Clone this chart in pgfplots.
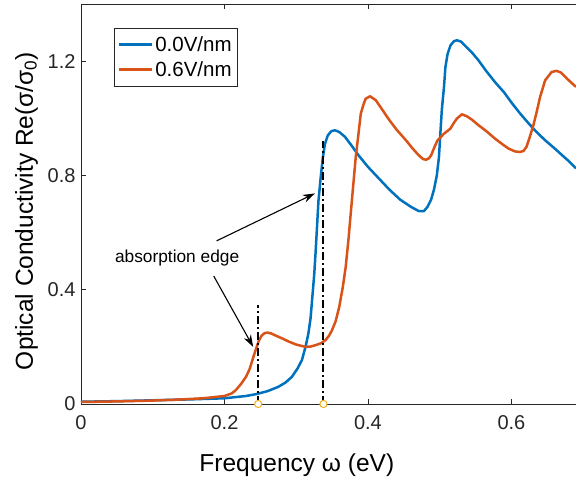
\documentclass[border=0pt]{standalone}
\usepackage{fontspec}
\setmainfont{Liberation Sans}
\usepackage{pgfplots}
\pgfplotsset{compat=1.18}
\usetikzlibrary{arrows.meta}
\definecolor{mblue}{rgb}{0,0.447,0.741}
\definecolor{morange}{rgb}{0.851,0.325,0.098}
\definecolor{myellow}{rgb}{0.929,0.694,0.125}
\definecolor{mgray}{rgb}{0.15,0.15,0.15}
\begin{document}
\begin{tikzpicture}
\path[use as bounding box] (-81pt,-81pt) rectangle (495pt,404pt);
\begin{axis}[
  scale only axis, width=495pt, height=400pt,
  at={(0pt,0pt)}, anchor=south west,
  xmin=0, xmax=0.69, ymin=0, ymax=1.4,
  axis x line*=box, axis y line*=left,
  axis line style={mgray, line width=0.8pt},
  xtick={0,0.2,0.4,0.6}, ytick={0,0.4,0.8,1.2},
  xticklabels={0,0.2,0.4,0.6}, yticklabels={0,0.4,0.8,1.2},
  tick align=inside, major tick length=5pt,
  tick style={mgray, line width=0.8pt},
  /pgf/number format/assume math mode=true,
  tick label style={font=\fontsize{20}{24}\selectfont, text=mgray},
  xticklabel style={yshift=-8pt},
  yticklabel style={xshift=-2pt},
  xlabel={Frequency ω (eV)},
  ylabel={Optical Conductivity Re(σ/σ\textsubscript{0})},
  label style={font=\fontsize{24.5}{28}\selectfont},
  xlabel style={at={(axis description cs:0.436,-0.1675)}, anchor=base},
  ylabel style={at={(axis description cs:-0.097,0.4825)}, anchor=base},
  legend style={at={(axis description cs:0.0667,0.94)}, anchor=north west,
    draw=mgray, fill=white,
    font=\fontsize{20.5}{24}\selectfont, inner xsep=3.5pt, inner ysep=6pt,
    row sep=5pt},
  legend cell align=left,
  legend image code/.code={\draw[#1, line width=2.6pt] (0pt,0pt) -- (33pt,0pt);},
  clip=false,
]
\addplot[mblue, line width=2.5pt, line join=round] coordinates {
(0,0.008) (0.05,0.01) (0.1,0.013) (0.15,0.016) (0.2,0.02) (0.23,0.028) (0.245,0.035) (0.26,0.045) (0.275,0.06) (0.285,0.075) (0.294,0.095) (0.302,0.125) (0.308,0.154) (0.313,0.2) (0.317,0.247) (0.32,0.3) (0.322,0.36) (0.325,0.45) (0.327,0.53) (0.329,0.62) (0.331,0.71) (0.334,0.79) (0.337,0.86) (0.34,0.91) (0.344,0.94) (0.349,0.955) (0.354,0.958) (0.36,0.952) (0.368,0.935) (0.377,0.905) (0.387,0.87) (0.4,0.83) (0.415,0.79) (0.43,0.75) (0.445,0.715) (0.46,0.69) (0.471,0.675) (0.478,0.675) (0.483,0.69) (0.488,0.715) (0.492,0.75) (0.496,0.8) (0.499,0.865) (0.501,0.95) (0.503,1.03) (0.506,1.11) (0.508,1.18) (0.511,1.225) (0.515,1.255) (0.52,1.27) (0.524,1.273) (0.53,1.268) (0.535,1.255) (0.545,1.23) (0.554,1.203) (0.565,1.165) (0.577,1.127) (0.59,1.09) (0.601,1.052) (0.612,1.017) (0.624,0.982) (0.635,0.952) (0.647,0.923) (0.66,0.895) (0.671,0.87) (0.68,0.85) (0.69,0.825)
};
\addlegendentry{0.0V/nm}
\addplot[morange, line width=2.5pt, line join=round] coordinates {
(0,0.007) (0.05,0.009) (0.1,0.012) (0.14,0.016) (0.17,0.02) (0.2,0.028) (0.21,0.037) (0.216,0.049) (0.223,0.07) (0.23,0.095) (0.235,0.122) (0.239,0.154) (0.242,0.178) (0.245,0.2) (0.248,0.222) (0.252,0.24) (0.256,0.248) (0.26,0.25) (0.265,0.247) (0.271,0.24) (0.28,0.23) (0.29,0.218) (0.3,0.208) (0.313,0.2) (0.32,0.201) (0.327,0.206) (0.335,0.213) (0.341,0.224) (0.346,0.24) (0.35,0.259) (0.355,0.29) (0.36,0.34) (0.365,0.41) (0.369,0.48) (0.373,0.58) (0.376,0.667) (0.38,0.78) (0.383,0.865) (0.387,0.95) (0.39,1.016) (0.394,1.05) (0.397,1.069) (0.403,1.077) (0.411,1.063) (0.42,1.03) (0.43,0.993) (0.44,0.96) (0.453,0.923) (0.462,0.895) (0.471,0.87) (0.477,0.857) (0.481,0.855) (0.485,0.86) (0.488,0.87) (0.492,0.895) (0.497,0.923) (0.506,0.946) (0.515,0.964) (0.52,0.985) (0.524,0.999) (0.531,1.014) (0.538,1.007) (0.545,0.995) (0.554,0.976) (0.565,0.955) (0.577,0.929) (0.587,0.91) (0.596,0.894) (0.605,0.884) (0.612,0.882) (0.617,0.886) (0.621,0.9) (0.625,0.93) (0.63,0.97) (0.635,1.02) (0.64,1.075) (0.647,1.133) (0.656,1.162) (0.663,1.166) (0.669,1.16) (0.675,1.145) (0.682,1.128) (0.69,1.11)
};
\addlegendentry{0.6V/nm}
\addplot[black, line width=2pt, dash pattern=on 8pt off 3pt on 2pt off 3pt, forget plot] coordinates {(0.247,0) (0.247,0.346)};
\addplot[black, line width=2pt, dash pattern=on 8pt off 3pt on 2pt off 3pt, forget plot] coordinates {(0.338,0) (0.338,0.92)};
\addplot[only marks, mark=*, mark size=3.6pt, mark options={line width=1pt, draw=myellow, fill=white}, forget plot] coordinates {(0.247,0) (0.338,0)};
\node[font=\fontsize{17.3}{20}\selectfont] at (axis cs:0.134,0.51) {absorption edge};
\draw[-{Stealth[length=12pt,width=8pt]}, line width=1.1pt] (axis cs:0.189,0.571) -- (axis cs:0.326,0.737);
\draw[-{Stealth[length=12pt,width=8pt]}, line width=1.1pt] (axis cs:0.185,0.448) -- (axis cs:0.240,0.2);
\end{axis}
\end{tikzpicture}
\end{document}
